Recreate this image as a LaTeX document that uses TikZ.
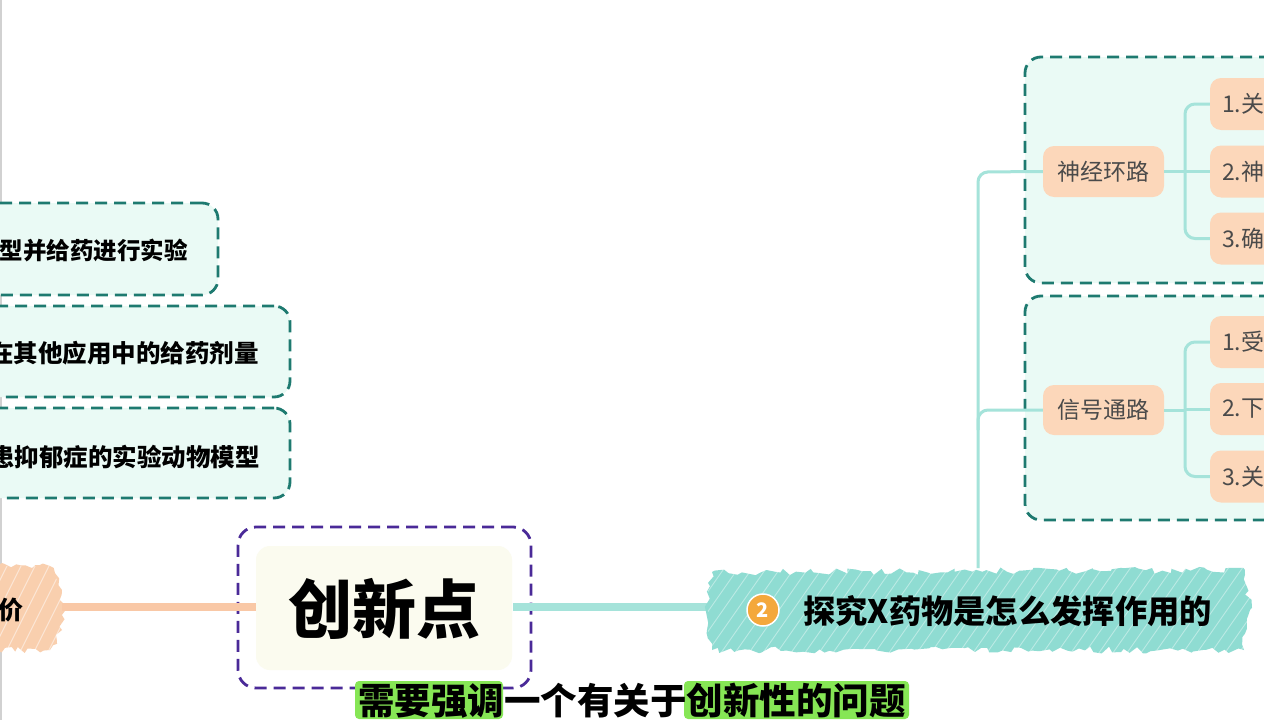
\documentclass[tikz,border=0pt]{standalone}
\usepackage{fontspec}
\setmainfont{Noto Sans CJK SC}
\newfontfamily\cjk{Noto Sans CJK SC}
\usetikzlibrary{decorations.pathmorphing}
\definecolor{tealdash}{HTML}{1E7A70}
\definecolor{mint}{HTML}{EAFAF5}
\definecolor{purp}{HTML}{4A2A98}
\definecolor{cream}{HTML}{FBFBEF}
\definecolor{orn}{HTML}{FCD7BA}
\definecolor{conn}{HTML}{A5E3DA}
\definecolor{oconn}{HTML}{F9C8A6}
\definecolor{scrt}{HTML}{8FDCD2}
\definecolor{scro}{HTML}{F9CFAE}
\definecolor{circ}{HTML}{F4A83C}
\definecolor{hgreen}{HTML}{86E655}
\definecolor{gtext}{HTML}{4A4A4A}
\tikzset{
  dbox/.style={draw=tealdash, fill=mint, line width=2.8pt, dash pattern=on 12pt off 7pt, rounded corners=16pt, inner sep=0pt},
  pbox/.style={draw=purp, line width=2.8pt, dash pattern=on 12pt off 7pt, rounded corners=18pt, inner sep=0pt},
  onode/.style={fill=orn, rounded corners=11pt, inner sep=0pt, font=\fontsize{23}{26}\selectfont, text=gtext},
  btext/.style={inner sep=0pt, font=\fontsize{23.5}{26}\selectfont\bfseries, text=black},
  cline/.style={draw=conn, line width=3pt, rounded corners=10pt},
}
\begin{document}
\begin{tikzpicture}[x=1pt,y=-1pt]
\useasboundingbox (0,0) rectangle (1264,720);
\clip (0,0) rectangle (1264,720);
\fill[white] (0,0) rectangle (1264,720);
\draw[black!18, line width=1.5pt] (1,0) -- (1,720);

% left teal boxes
\node[dbox, minimum width=258pt, minimum height=92pt] (lb1) at (89,249) {};
\node[btext, anchor=east] (lt1) at (188,250) {型并给药进行实验};
\node[dbox, minimum width=330pt, minimum height=91pt] (lb2) at (125,351.5) {};
\node[btext, anchor=east, font=\fontsize{24.5}{26}\selectfont\bfseries] (lt2) at (259,353) {在其他应用中的给药剂量};
\node[dbox, minimum width=330pt, minimum height=90pt] (lb3) at (125,453) {};
\node[btext, anchor=east, font=\fontsize{24.5}{26}\selectfont\bfseries] (lt3) at (260,457) {患抑郁症的实验动物模型};

% left orange scribble
\pgfmathsetseed{7}
\fill[scro, decorate, decoration={random steps, segment length=5pt, amplitude=3pt}] (-20,566) -- (50,566) -- (62,590) -- (62,630) -- (50,650) -- (-20,650) -- cycle;
\begin{scope}
\clip (-20,566) -- (50,566) -- (62,590) -- (62,630) -- (50,650) -- (-20,650) -- cycle;
\foreach \i in {0,14,...,120} \draw[white, opacity=0.5, line width=1pt] (\i-40,660) -- (\i+10,560);
\end{scope}
\node[btext, anchor=east, font=\fontsize{25}{27}\selectfont\bfseries] (lscr) at (24,610) {评价};

% center node
\node[pbox, minimum width=293pt, minimum height=161pt] (center) at (384.5,607.5) {};
\coordinate (cL) at (256,607);
\coordinate (cR) at (513,607);
\coordinate (oL) at (62,607);
\draw[oconn, line width=8pt] (oL) -- (cL);
\draw[conn, line width=8pt] (cR) -- (712,607);
\fill[cream, rounded corners=14pt] (256,546) rectangle (512,670);
\node[inner sep=0pt, font=\fontsize{64}{66}\selectfont\bfseries] (ctext) at (384,609) {创新点};

% right scribble
\pgfmathsetseed{3}
\fill[scrt, decorate, decoration={random steps, segment length=6pt, amplitude=3.5pt}] (712,572) -- (1245,570) -- (1250,610) -- (1244,650) -- (712,650) -- (706,612) -- cycle;
\begin{scope}
\clip (708,568) rectangle (1252,653);
\foreach \i in {700,714,...,1280} \draw[white, opacity=0.4, line width=0.9pt] (\i-40,660) -- (\i+30,560);
\end{scope}
\coordinate (scr) at (712,607);
\node[circle, fill=circ, draw=white, line width=1.5pt, minimum size=32pt, inner sep=0pt, text=white, font=\fontsize{20}{21}\selectfont\bfseries] (num) at (763,610) {2};
\node[inner sep=0pt, anchor=west, font=\fontsize{32.3}{34}\selectfont\bfseries] (rtitle) at (803,611) {探究X药物是怎么发挥作用的};

% right boxes
\node[dbox, minimum width=300pt, minimum height=226pt] (rb1) at (1175,170) {};
\node[dbox, minimum width=300pt, minimum height=224pt] (rb2) at (1175,408) {};

\node[onode, minimum width=121pt, minimum height=51pt] (n1) at (1103.5,171.5) {神经环路};
\node[onode, minimum width=121pt, minimum height=50pt] (n2) at (1103.5,410) {信号通路};

\foreach \nm/\y/\t in {a1/104/1.关, a2/171.5/2.神, a3/238.5/3.确, b1/342/1.受, b2/409/2.下, b3/476.5/3.关}{
  \node[onode, minimum width=110pt, minimum height=52pt] (\nm) at (1265,\y) {};
  \node[inner sep=0pt, anchor=west, font=\fontsize{23}{26}\selectfont, text=gtext] at (1222,\y) {\t};
}

% connectors right
\coordinate (vtop) at (978,568);
\draw[cline] (vtop) -- (978,172) -- (n1.west);
\draw[cline] (978,430) -- (978,410) -- (n2.west);
\draw[conn, line width=3pt] (n1.east) -- (1185,171.5);
\draw[cline] (a1.west) -- (1185,104) -- (1185,238.5) -- (a3.west);
\draw[conn, line width=3pt] (1185,171.5) -- (a2.west);
\draw[conn, line width=3pt] (n2.east) -- (1185,410);
\draw[cline] (b1.west) -- (1185,342) -- (1185,476.5) -- (b3.west);
\draw[conn, line width=3pt] (1185,409) -- (b2.west);

% subtitle
\fill[hgreen, rounded corners=4pt] (355,681) rectangle (503,719);
\fill[hgreen, rounded corners=4pt] (684,681) rectangle (909,719);
\node[inner sep=0pt, font=\fontsize{36.5}{38}\selectfont\bfseries] (sub) at (632,701) {需要强调一个有关于创新性的问题};
\end{tikzpicture}
\end{document}
